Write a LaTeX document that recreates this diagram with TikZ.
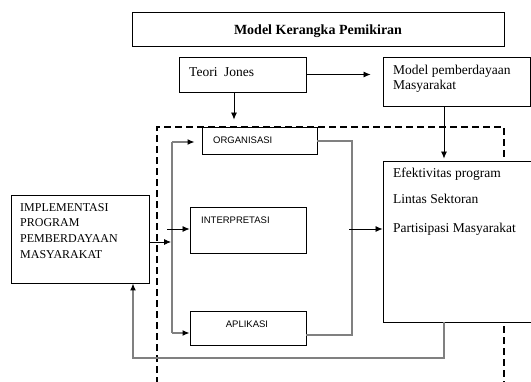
\documentclass[tikz,border=0pt]{standalone}
\usepackage{fontspec}
\setmainfont{Liberation Serif}
\newfontfamily\lsans{Liberation Sans}
\usetikzlibrary{arrows.meta,fit}
\begin{document}
\begin{tikzpicture}[x=1pt,y=-1pt,
  box/.style={draw=black, line width=0.9pt, fill=white, inner sep=0pt},
  txt/.style={inner sep=0pt, anchor=base west, font=\fontsize{13.5}{16}\selectfont},
  caps/.style={inner sep=0pt, anchor=base west, font=\fontsize{12}{14}\selectfont},
  lbl/.style={inner sep=0pt, anchor=base west, font=\lsans\fontsize{9.5}{11}\selectfont},
  arr/.style={draw=black, line width=0.8pt, -{Latex[length=7pt,width=6pt]}},
  garr/.style={draw=black!50, line width=1.3pt, -{Latex[length=7pt,width=6pt,black]}},
  gline/.style={draw=black!50, line width=1.3pt},
  frame/.style={draw=black, line width=2pt, dash pattern=on 7pt off 4pt}
]
\fill[white] (0,0) rectangle (531,381);
\clip (0,0) rectangle (531,381);

% dashed frame
\draw[frame] (157,384) -- (157,127) -- (504,127) -- (504,384);

% boxes
\node[box, fit={(132,12) (504,46)}] (title) {};
\node[box, fit={(179,57) (306,92)}] (jones) {};
\node[box, fit={(383,57) (530.5,106)}] (model) {};
\node[box, fit={(202,127) (317,154)}] (org) {};
\node[box, fit={(190,207) (306,253)}] (interp) {};
\node[box, fit={(190,311) (306,345)}] (aplik) {};
\node[box, fit={(11,195) (149,283)}] (impl) {};
\node[box, fit={(383,161) (534,322)}] (efek) {};

% texts
\node[txt, anchor=base, font=\bfseries\fontsize{14}{16}\selectfont] (ttitle) at (318,34) {Model Kerangka Pemikiran};
\node[txt] (tjones) at (189,76) {Teori\ \ Jones};
\node[txt] (tmodel1) at (393,74) {Model pemberdayaan};
\node[txt] (tmodel2) at (393,89) {Masyarakat};
\node[txt] (tefek1) at (393,177) {Efektivitas program};
\node[txt] (tefek2) at (393,203) {Lintas Sektoran};
\node[txt] (tefek3) at (393,232) {Partisipasi Masyarakat};
\node[caps] (timpl1) at (20,211) {IMPLEMENTASI};
\node[caps] (timpl2) at (20,226) {PROGRAM};
\node[caps] (timpl3) at (20,242) {PEMBERDAYAAN};
\node[caps] (timpl4) at (20,258) {MASYARAKAT};
\node[lbl] (torg) at (213,143) {ORGANISASI};
\node[lbl] (tinterp) at (201,223) {INTERPRETASI};
\node[lbl, anchor=base] (taplik) at (247,327) {APLIKASI};

% helper coordinates
\coordinate (jd) at (234,92);
\coordinate (md) at (444,106);
\coordinate (gi) at (171,242);
\coordinate (gtop) at (172,142);
\coordinate (gbot) at (172,333);
\coordinate (ia) at (167,229);
\coordinate (rtop) at (352,141);
\coordinate (rbot) at (352,335);
\coordinate (ea) at (349,229);
\coordinate (fbr) at (444,358);
\coordinate (fbl) at (133,358);

% connectors
\draw[arr, shorten >=12pt] (jones.east) -- (model.west |- jones.east);
\draw[arr, shorten >=7pt] (jd) -- (jd |- org.north);
\draw[arr, shorten >=2pt] (md) -- (md |- efek.north);
\draw[arr] (gi -| impl.east) -- (gi);
\draw[gline] (gtop) -- (gbot);
\draw[garr, shorten >=7pt] (gtop) -- (gtop -| org.west);
\draw[arr] (ia) -- (ia -| interp.west);
\draw[garr] (gbot) -- (gbot -| aplik.west);
\draw[gline] (org.east |- rtop) -- (rtop) -- (rbot) -- (rbot -| aplik.east);
\draw[arr] (ea) -- (ea -| efek.west);
\draw[garr] (efek.south -| fbr) -- (fbr) -- (fbl) -- (fbl |- impl.south);
\end{tikzpicture}
\end{document}
